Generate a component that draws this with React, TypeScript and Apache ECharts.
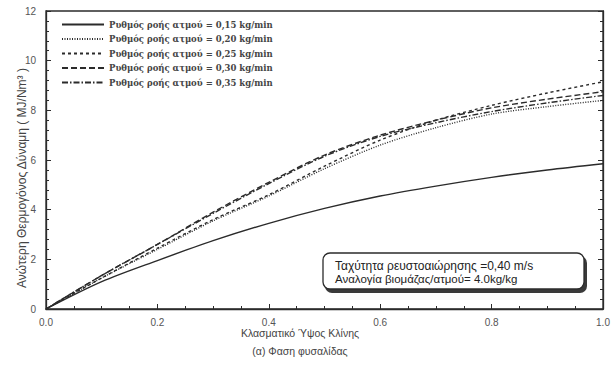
import React, { useEffect, useRef } from "react";
import * as echarts from "echarts";

// Fractional bed height (x) and upper heating value (MJ/Nm³) per steam flow rate
const bedHeight = [0, 0.1, 0.2, 0.3, 0.4, 0.5, 0.6, 0.7, 0.8, 0.9, 1.0];
const hv015 = [0, 1.1, 1.95, 2.75, 3.45, 4.05, 4.55, 4.95, 5.3, 5.6, 5.85];
const hv020 = [0, 1.25, 2.4, 3.55, 4.55, 5.65, 6.6, 7.3, 7.85, 8.15, 8.4];
const hv025 = [0, 1.25, 2.45, 3.6, 4.6, 5.75, 6.8, 7.6, 8.2, 8.7, 9.15];
const hv030 = [0, 1.35, 2.6, 3.9, 5.1, 6.2, 7.0, 7.6, 8.1, 8.45, 8.75];
const hv035 = [0, 1.35, 2.6, 3.85, 5.05, 6.15, 6.95, 7.5, 7.95, 8.3, 8.6];

const seriesNames = [
  "Ρυθμός ροής ατμού = 0,15 kg/min",
  "Ρυθμός ροής ατμού = 0,20 kg/min",
  "Ρυθμός ροής ατμού = 0,25 kg/min",
  "Ρυθμός ροής ατμού = 0,30 kg/min",
  "Ρυθμός ροής ατμού = 0,35 kg/min",
];
const seriesValues = [hv015, hv020, hv025, hv030, hv035];
const dashStyles: (string | number[])[] = [
  "solid",
  [1, 1.5],
  [3, 3],
  [6, 3],
  [6, 2, 1.5, 2],
];

const xTicks = [0, 0.2, 0.4, 0.6, 0.8, 1.0];
const yTicks = [0, 2, 4, 6, 8, 10, 12];

const xTitle = "Κλασματικό Ύψος Κλίνης";
const subTitle = "(α) Φαση φυσαλίδας";
const yTitle = "Ανώτερη Θερμογόνος Δύναμη ( MJ/Nm³ )";
const noteLines = [
  "Ταχύτητα ρευστοαιώρησης =0,40 m/s",
  "Αναλογία βιομάζας/ατμού= 4.0kg/kg",
];

const INK = "#2b2b2b";
const LABEL = "#555";

export default function App() {
  const ref = useRef<HTMLDivElement>(null);

  useEffect(() => {
    if (!ref.current) return;
    const chart = echarts.init(ref.current, undefined, { renderer: "svg" });

    const series = seriesNames.map((name, i) => ({
      name,
      type: "line",
      smooth: 0.3,
      showSymbol: false,
      symbol: "none",
      yAxisIndex: 0,
      data: bedHeight.map((x, j) => [x, seriesValues[i][j]]),
      lineStyle: { color: INK, width: 1.4, type: dashStyles[i] },
      itemStyle: { color: INK },
    }));

    const axisCommon = {
      axisLine: { show: true, lineStyle: { color: INK, width: 1.3 } },
      axisTick: { show: true, inside: true, length: 5, lineStyle: { color: INK } },
      minorTick: { show: true, splitNumber: 4, length: 3, lineStyle: { color: INK } },
      splitLine: { show: false },
    };

    chart.setOption({
      animation: false,
      backgroundColor: "#fff",
      grid: { left: 46, right: 10, top: 11, bottom: 60, show: true, borderColor: INK, borderWidth: 1.3 },
      legend: {
        orient: "vertical",
        left: 56,
        top: 15,
        itemWidth: 42,
        itemHeight: 10,
        itemGap: 5.5,
        itemStyle: { color: "transparent", borderColor: "transparent", borderWidth: 0, opacity: 0 },
        textStyle: {
          fontFamily: "DejaVu Serif",
          fontWeight: "bold",
          fontSize: 8.5,
          color: "#444",
        },
        data: seriesNames,
      },
      xAxis: {
        type: "value",
        min: xTicks[0],
        max: xTicks[xTicks.length - 1],
        interval: 0.2,
        ...axisCommon,
        axisLabel: {
          color: LABEL,
          fontFamily: "Liberation Sans",
          fontSize: 10,
          margin: 8,
          formatter: (v: number) => v.toFixed(1),
        },
      },
      yAxis: [
        {
          type: "value",
          min: yTicks[0],
          max: yTicks[yTicks.length - 1],
          interval: 2,
          ...axisCommon,
          minorTick: { show: true, splitNumber: 5, length: 3, lineStyle: { color: INK } },
          axisLabel: {
            color: LABEL,
            fontFamily: "Liberation Sans",
            fontSize: 10,
            margin: 10,
          },
        },
        {
          type: "value",
          position: "right",
          min: yTicks[0],
          max: yTicks[yTicks.length - 1],
          interval: 2,
          ...axisCommon,
          minorTick: { show: true, splitNumber: 5, length: 3, lineStyle: { color: INK } },
          axisLabel: { show: false },
        },
      ],
      series,
      graphic: [
        {
          type: "text",
          x: 22,
          y: 178,
          rotation: Math.PI / 2,
          style: {
            text: yTitle,
            fill: "#444",
            font: "12px 'Liberation Sans'",
            textAlign: "center",
            textVerticalAlign: "middle",
          },
        },
        {
          type: "text",
          x: 300,
          y: 333,
          style: {
            text: xTitle,
            fill: "#444",
            font: "10.5px 'Liberation Sans'",
            textAlign: "center",
            textVerticalAlign: "middle",
          },
        },
        {
          type: "text",
          x: 300,
          y: 351,
          style: {
            text: subTitle,
            fill: "#444",
            font: "10.5px 'Liberation Sans'",
            textAlign: "center",
            textVerticalAlign: "middle",
          },
        },
        {
          type: "rect",
          shape: { x: 325, y: 256, width: 262, height: 37, r: 7 },
          style: { fill: "#3a3a3a" },
        },
        {
          type: "rect",
          shape: { x: 323, y: 253, width: 261, height: 36, r: 7 },
          style: { fill: "#fff", stroke: INK, lineWidth: 1.3 },
        },
        {
          type: "text",
          x: 335,
          y: 266,
          style: {
            text: noteLines[0],
            fill: "#222",
            font: "12px 'Liberation Sans'",
            textVerticalAlign: "middle",
          },
        },
        {
          type: "text",
          x: 335,
          y: 279,
          style: {
            text: noteLines[1],
            fill: "#222",
            font: "11.5px 'Liberation Sans'",
            textVerticalAlign: "middle",
          },
        },
      ],
    });

    return () => chart.dispose();
  }, []);

  return (
    <div
      ref={ref}
      style={{ position: "absolute", left: 0, top: 0, width: 613, height: 369 }}
    />
  );
}
